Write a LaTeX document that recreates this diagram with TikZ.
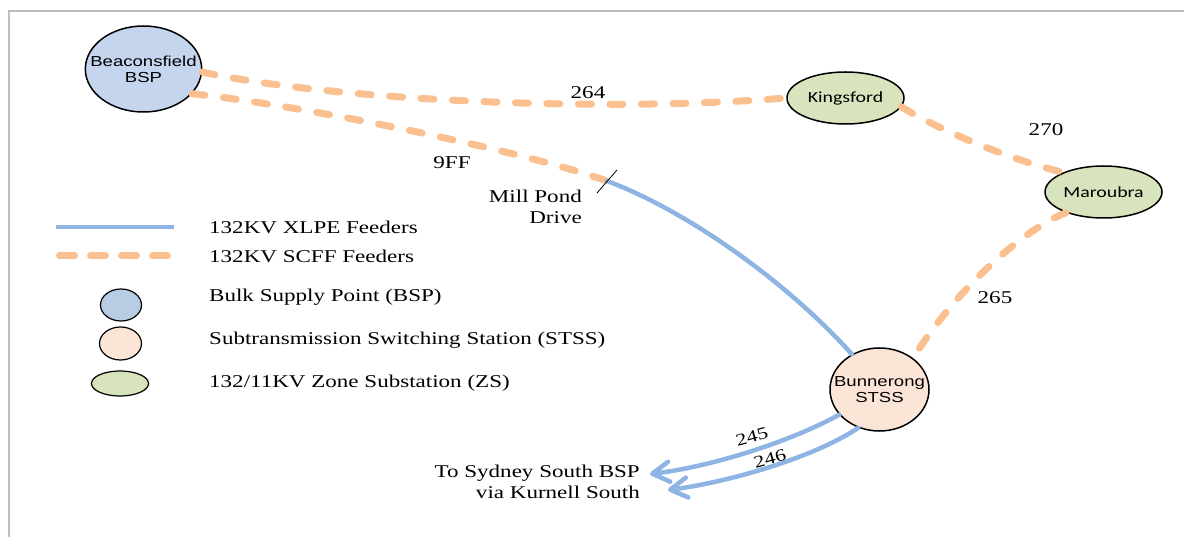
\documentclass[tikz,border=0pt]{standalone}
\usepackage{fontspec}
\setmainfont{Liberation Serif}[FakeStretch=1.28]
\setsansfont{Liberation Sans}[FakeStretch=1.28]
\newfontfamily\zonefont{Carlito}[FakeStretch=1.28]
\usetikzlibrary{shapes.geometric, arrows.meta}

\definecolor{xlpe}{RGB}{141,180,226}
\definecolor{scff}{RGB}{250,192,144}
\definecolor{bspfill}{RGB}{198,213,238}
\definecolor{bspkey}{RGB}{184,204,228}
\definecolor{stssfill}{RGB}{251,229,214}
\definecolor{zsfill}{RGB}{215,228,189}
\definecolor{framegray}{RGB}{190,190,190}

\begin{document}
\begin{tikzpicture}[x=1pt,y=1pt,yscale=-1,
    station/.style={ellipse, draw=black, line width=1.5pt, inner xsep=-12pt, inner ysep=-6pt,
      align=center, font=\sffamily\fontsize{14.5}{16}\selectfont},
    zone/.style={station, fill=zsfill, minimum width=117pt, minimum height=52pt,
      font=\zonefont\fontsize{15.5}{17}\selectfont},
    keymark/.style={ellipse, draw=black, line width=1.2pt, inner sep=0pt,
      minimum width=41pt, minimum height=32pt},
    xlpeline/.style={draw=xlpe, line width=4.5pt, line cap=round},
    scffline/.style={draw=scff, line width=7pt, line cap=round, dash pattern=on 13pt off 18.5pt},
    feederarrow/.style={xlpeline, -{Straight Barb[length=17pt,width=20pt,round]}},
    tag/.style={font=\fontsize{18}{21}\selectfont, inner sep=0pt},
    keytext/.style={tag, anchor=west}]
  \useasboundingbox (0,0) rectangle (1184,537);
  \draw[framegray, line width=2pt] (9,537) -- (9,11) -- (1184,11);

  % stations
  \node[station, fill=bspfill, minimum width=109pt, minimum height=86pt] (bsp) at (143.5,69) {Beaconsfield\\BSP};
  \node[zone] (king) at (845.5,98) {Kingsford};
  \node[zone] (mar) at (1103.5,192) {Maroubra};
  \node[station, fill=stssfill, minimum width=99pt, minimum height=83pt] (bun) at (879.5,389.5) {Bunnerong\\STSS};

  % feeders
  \coordinate (mp) at (607,181);
  \coordinate (tipA) at (650,474);
  \coordinate (tipB) at (668,490);
  \draw[scffline] (bsp.-3) .. controls (330,100) and (600,113) .. (king.west);
  \draw[scffline] (bsp.-27) .. controls (300,105) and (520,150) .. (mp);
  \draw[scffline] (king.-9) .. controls (935,128) and (1010,160) .. (mar.154);
  \draw[scffline] (mar.209) .. controls (1025,228) and (955,290) .. (bun.43);
  \draw[xlpeline] (mp) .. controls (685,210) and (785,280) .. (bun.128);
  \draw[black, line width=0.8pt] (mp) ++(-10,12) -- ++(20,-23);
  \draw[feederarrow] (bun.212) .. controls (790,442) and (710,467) .. (tipA);
  \draw[feederarrow] (bun.241) .. controls (815,457) and (730,482) .. (tipB);

  \node[tag] (n264) at (588,92.5) {264};
  \node[tag] (n9ff) at (452,163) {9FF};
  \node[tag] (n270) at (1046,130) {270};
  \node[tag] (n265) at (995,298) {265};
  \node[tag, rotate=15, font=\fontsize{17}{20}\selectfont] (n245) at (752,437) {245};
  \node[tag, rotate=15, font=\fontsize{17}{20}\selectfont] (n246) at (770,459) {246};
  \node[tag, align=right, anchor=east] (mill) at (582,207) {Mill Pond\\Drive};
  \node[tag, align=right, anchor=east] (sydney) at (640,482) {To Sydney South BSP\\via Kurnell South};

  % legend
  \draw[xlpeline, line cap=butt] (56,227) -- (174,227);
  \draw[draw=scff, line width=7pt, line cap=round, dash pattern=on 15pt off 16pt] (59.5,256) -- (167.5,256);
  \node[keymark, fill=bspkey] (keybsp) at (121,305) {};
  \node[keymark, fill=stssfill, minimum width=42pt, minimum height=33pt] (keystss) at (120.5,343.5) {};
  \node[keymark, fill=zsfill, minimum width=57pt, minimum height=25pt] (keyzs) at (120,383.5) {};
  \node[keytext] (txlpe) at (209,227) {132KV XLPE Feeders};
  \node[keytext] (tscff) at (209,256) {132KV SCFF Feeders};
  \node[keytext] (tbsp) at (209,297) {Bulk Supply Point (BSP)};
  \node[keytext] (tstss) at (209,340) {Subtransmission Switching Station (STSS)};
  \node[keytext] (tzs) at (209,383) {132/11KV Zone Substation (ZS)};
\end{tikzpicture}
\end{document}
